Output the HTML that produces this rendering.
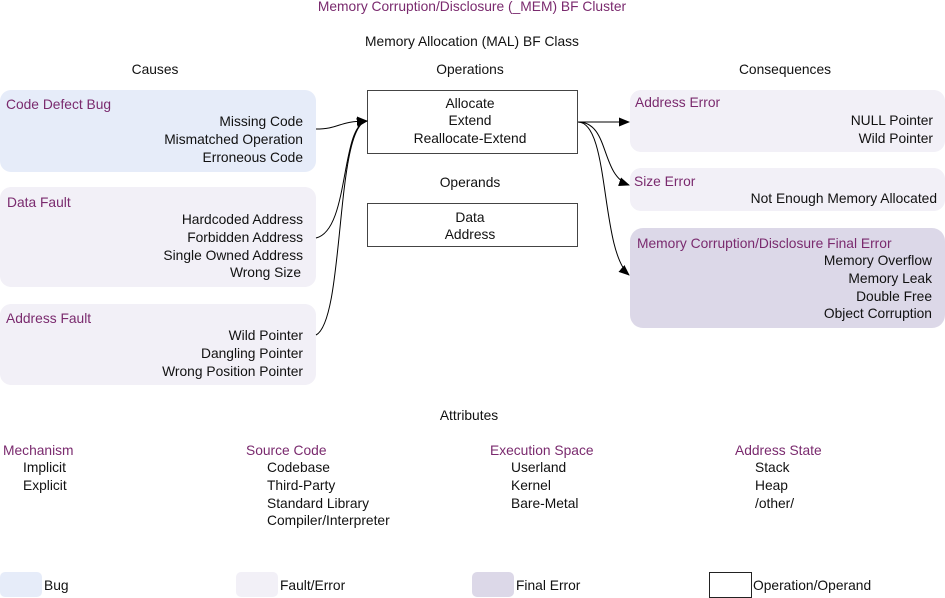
<!DOCTYPE html>
<html><head><meta charset="utf-8"><style>
html,body{margin:0;padding:0;background:#fff;}
svg{display:block;}
text{font-family:"Liberation Sans",sans-serif;font-size:13.8px;fill:#111;}
.p{fill:#7a2a6e;}
</style></head><body>
<svg width="945" height="598" viewBox="0 0 945 598" xmlns="http://www.w3.org/2000/svg">
<defs><marker id="a" markerWidth="11" markerHeight="9" refX="10" refY="4.5" orient="auto" markerUnits="userSpaceOnUse"><path d="M0,0 L11,4.5 L0,9 z" fill="#000"/></marker></defs>
<text x="472" y="11" text-anchor="middle" class="p">Memory Corruption/Disclosure (_MEM) BF Cluster</text>
<text x="472" y="46" text-anchor="middle">Memory Allocation (MAL) BF Class</text>
<text x="155" y="74" text-anchor="middle">Causes</text>
<text x="470" y="74" text-anchor="middle">Operations</text>
<text x="785" y="74" text-anchor="middle">Consequences</text>

<rect x="0" y="90" width="316" height="82" rx="11" fill="#e6ecf9"/>
<text x="6" y="109" class="p">Code Defect Bug</text>
<text x="303" y="126" text-anchor="end">Missing Code</text>
<text x="303" y="144" text-anchor="end">Mismatched Operation</text>
<text x="303" y="162" text-anchor="end">Erroneous Code</text>

<rect x="0" y="187" width="316" height="100" rx="11" fill="#f2f0f7"/>
<text x="7" y="207" class="p">Data Fault</text>
<text x="303" y="224" text-anchor="end">Hardcoded Address</text>
<text x="303" y="242" text-anchor="end">Forbidden Address</text>
<text x="303" y="260" text-anchor="end">Single Owned Address</text>
<text x="301" y="277" text-anchor="end">Wrong Size</text>

<rect x="0" y="304" width="316" height="81" rx="11" fill="#f2f0f7"/>
<text x="6" y="323" class="p">Address Fault</text>
<text x="303" y="340" text-anchor="end">Wild Pointer</text>
<text x="303" y="358" text-anchor="end">Dangling Pointer</text>
<text x="303" y="376" text-anchor="end">Wrong Position Pointer</text>

<rect x="367.5" y="90.5" width="210" height="63" fill="#fff" stroke="#444"/>
<text x="470" y="108" text-anchor="middle">Allocate</text>
<text x="470" y="125" text-anchor="middle">Extend</text>
<text x="470" y="143" text-anchor="middle">Reallocate-Extend</text>
<text x="470" y="187" text-anchor="middle">Operands</text>
<rect x="367.5" y="203.5" width="210" height="43" fill="#fff" stroke="#444"/>
<text x="470" y="222" text-anchor="middle">Data</text>
<text x="470" y="239" text-anchor="middle">Address</text>

<rect x="630" y="90" width="315" height="62" rx="11" fill="#f2f0f7"/>
<text x="635" y="107" class="p">Address Error</text>
<text x="933" y="125" text-anchor="end">NULL Pointer</text>
<text x="933" y="143" text-anchor="end">Wild Pointer</text>

<rect x="630" y="168" width="315" height="43" rx="11" fill="#f2f0f7"/>
<text x="634" y="186" class="p">Size Error</text>
<text x="937" y="203" text-anchor="end">Not Enough Memory Allocated</text>

<rect x="630" y="228" width="315" height="100" rx="13" fill="#dcd8e8"/>
<text x="637" y="248" class="p">Memory Corruption/Disclosure Final Error</text>
<text x="932" y="265" text-anchor="end">Memory Overflow</text>
<text x="932" y="283" text-anchor="end">Memory Leak</text>
<text x="932" y="301" text-anchor="end">Double Free</text>
<text x="932" y="318" text-anchor="end">Object Corruption</text>

<g fill="none" stroke="#000" stroke-width="1">
<path d="M316,129 C340,129 338,121 367,121" marker-end="url(#a)"/>
<path d="M316,238 C350,230 340,125 367,121" marker-end="url(#a)"/>
<path d="M316,335 C345,320 335,125 367,121" marker-end="url(#a)"/>
<path d="M578,122 L629,122" marker-end="url(#a)"/>
<path d="M578,122 C610,122 600,175 629,185" marker-end="url(#a)"/>
<path d="M578,122 C610,122 600,250 629,275" marker-end="url(#a)"/>
</g>

<text x="469" y="420" text-anchor="middle">Attributes</text>
<text x="3" y="455" class="p">Mechanism</text>
<text x="23" y="472">Implicit</text>
<text x="23" y="490">Explicit</text>
<text x="246" y="455" class="p">Source Code</text>
<text x="267" y="472">Codebase</text>
<text x="267" y="490">Third-Party</text>
<text x="267" y="508">Standard Library</text>
<text x="267" y="525">Compiler/Interpreter</text>
<text x="490" y="455" class="p">Execution Space</text>
<text x="511" y="472">Userland</text>
<text x="511" y="490">Kernel</text>
<text x="511" y="508">Bare-Metal</text>
<text x="735" y="455" class="p">Address State</text>
<text x="755" y="472">Stack</text>
<text x="755" y="490">Heap</text>
<text x="755" y="508">/other/</text>

<rect x="0" y="572" width="42" height="25" rx="5" fill="#e6ecf9"/>
<text x="44" y="590">Bug</text>
<rect x="236" y="572" width="42" height="25" rx="5" fill="#f2f0f7"/>
<text x="280" y="590">Fault/Error</text>
<rect x="472" y="572" width="42" height="25" rx="5" fill="#dcd8e8"/>
<text x="516" y="590">Final Error</text>
<rect x="709.5" y="572.5" width="42" height="25" fill="#fff" stroke="#222"/>
<text x="753" y="590">Operation/Operand</text>
</svg>
</body></html>
